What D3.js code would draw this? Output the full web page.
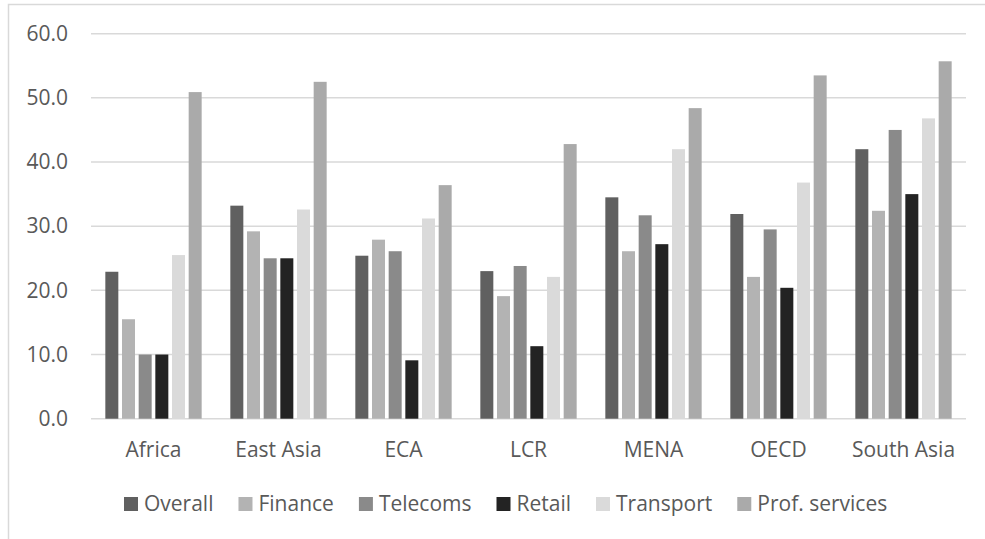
<!DOCTYPE html>
<html><head><meta charset="utf-8">
<script src="https://cdn.jsdelivr.net/npm/d3@7"></script>
<style>body{margin:0;background:#fff}svg{display:block}text{font-family:"Open Sans",sans-serif;fill:#595959}</style>
</head><body><svg id="c" width="985" height="539"></svg>
<script>
const categories = ["Africa","East Asia","ECA","LCR","MENA","OECD","South Asia"];
const seriesNames = ["Overall","Finance","Telecoms","Retail","Transport","Prof. services"];
const overall   = [22.9, 33.2, 25.4, 23.0, 34.5, 31.9, 42.0];
const finance   = [15.5, 29.2, 27.9, 19.1, 26.1, 22.1, 32.4];
const telecoms  = [10.0, 25.0, 26.1, 23.8, 31.7, 29.5, 45.0];
const retail    = [10.0, 25.0,  9.1, 11.3, 27.2, 20.4, 35.0];
const transport = [25.5, 32.6, 31.2, 22.1, 42.0, 36.8, 46.8];
const profServ  = [50.9, 52.5, 36.4, 42.8, 48.4, 53.5, 55.7];
const yTicks = [0,10,20,30,40,50,60];
const colors = ["#606060","#b3b3b3","#8a8a8a","#232323","#dadada","#aaaaaa"];

const seriesValues = [overall, finance, telecoms, retail, transport, profServ];
const svg = d3.select("#c");
const FS = "21px";

// chart border
svg.append("path").attr("d","M8.5,539 V4.5 H985").attr("fill","none").attr("stroke","#d9d9d9").attr("stroke-width",1.5);

const x0 = d3.scaleBand().domain(categories).range([91,966]).paddingInner(0.2).paddingOuter(0.1);
const x1 = d3.scaleBand().domain(seriesNames).range([0,x0.bandwidth()]).paddingInner(0.22).paddingOuter(0.11);
const y = d3.scaleLinear().domain([0,60]).range([418.7,33.7]);

// gridlines
svg.append("g").selectAll("line").data(yTicks).join("line")
  .attr("x1",91).attr("x2",966).attr("y1",d=>y(d)).attr("y2",d=>y(d))
  .attr("stroke","#d9d9d9").attr("stroke-width",1.5);

// y labels
const yAxis = d3.axisLeft(y).tickValues(yTicks).tickFormat(d3.format(".1f")).tickSize(0).tickPadding(0);
const ya = svg.append("g").attr("transform","translate(68,0)").call(yAxis);
ya.select(".domain").remove();
ya.selectAll("text").style("font-family","Open Sans").style("font-size",FS).attr("fill","#595959");

// bars
const groups = svg.append("g").selectAll("g").data(categories).join("g")
  .attr("transform",d=>`translate(${x0(d)},0)`);
groups.selectAll("rect").data((c,ci)=>seriesNames.map((s,si)=>({s,si,v:seriesValues[si][ci]}))).join("rect")
  .attr("x",d=>x1(d.s)).attr("width",x1.bandwidth())
  .attr("y",d=>y(d.v)).attr("height",d=>y(0)-y(d.v))
  .attr("fill",d=>colors[d.si]);

// x labels
const xAxis = d3.axisBottom(x0).tickSize(0).tickPadding(0);
const xa = svg.append("g").attr("transform","translate(0,442)").call(xAxis);
xa.select(".domain").remove();
xa.selectAll("text").style("font-family","Open Sans").style("font-size",FS).attr("fill","#595959").attr("dy","0.71em");

// legend
const lg = svg.append("g");
let lx = 124;
seriesNames.forEach((s,i)=>{
  const g = lg.append("g").attr("transform",`translate(${lx},0)`);
  g.append("rect").attr("x",0).attr("y",497).attr("width",14).attr("height",14).attr("fill",colors[i]);
  const t = g.append("text").attr("x",20).attr("y",511).style("font-size",FS).text(s);
  lx += 20 + t.node().getComputedTextLength() + 25;
});
</script></body></html>
